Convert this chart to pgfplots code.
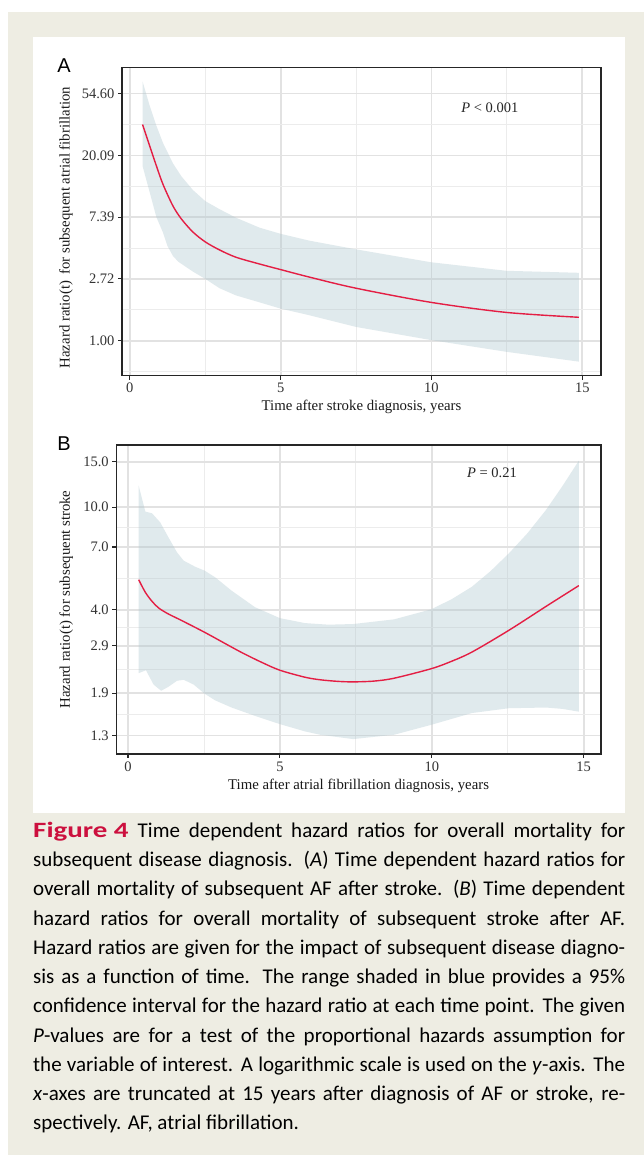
\documentclass[border=0pt]{standalone}
\usepackage{fontspec}
\usepackage{graphicx}
\setmainfont{Liberation Serif}
\newfontfamily\capfont{Carlito}
\newfontfamily\panelfont{Liberation Sans}
\usepackage{pgfplots}
\usepackage{pgfplotstable}
\pgfplotsset{compat=1.18}

\definecolor{beige}{RGB}{238,237,227}
\definecolor{gridmaj}{RGB}{226,226,226}
\definecolor{gridmin}{RGB}{236,236,236}
\definecolor{bandc}{RGB}{169,195,204}
\definecolor{fitred}{RGB}{228,30,68}
\definecolor{figred}{RGB}{204,16,62}

% Panel A: fitted hazard ratio
\pgfplotstableread{
t     hr
0.42  33.12
0.66  23.34
0.88  16.95
1.10  12.55
1.43  8.85
1.71  7.17
2.09  5.81
2.50  4.95
2.97  4.35
3.52  3.86
4.30  3.46
5.00  3.16
5.95  2.80
7.49  2.34
9.98  1.86
12.48 1.58
14.89 1.46
}\tabAfit

% Panel A: 95% CI polygon (upper limit forward, lower limit backward)
\pgfplotstableread{
t     hr
0.42  66.69
0.66  44.70
0.88  32.46
1.10  24.53
1.43  17.64
1.71  14.30
2.09  11.47
2.50  9.58
2.97  8.41
3.52  7.32
4.30  6.23
5.00  5.64
5.95  5.05
7.49  4.39
9.98  3.56
12.48 3.10
14.89 3.00
14.89 0.712
12.48 0.835
9.98  1.01
7.49  1.25
5.95  1.51
5.00  1.68
4.30  1.86
3.52  2.08
2.97  2.34
2.50  2.72
2.09  3.06
1.87  3.29
1.60  3.60
1.43  3.94
1.25  4.62
1.10  5.75
0.88  7.39
0.66  11.02
0.42  16.95
}\tabAci

% Panel B: fitted hazard ratio
\pgfplotstableread{
t     hr
0.35  5.23
0.57  4.67
0.79  4.31
1.01  4.06
1.33  3.85
1.77  3.63
2.52  3.27
3.19  2.96
3.74  2.73
4.40  2.50
5.00  2.33
5.82  2.19
6.32  2.14
6.90  2.11
7.41  2.10
8.10  2.115
8.76  2.17
9.97  2.36
10.60 2.51
11.32 2.74
12.54 3.33
13.76 4.12
14.84 4.96
}\tabBfit

% Panel B: 95% CI polygon (upper limit forward, lower limit backward)
\pgfplotstableread{
t     hr
0.35  12.11
0.57  9.60
0.79  9.46
1.06  8.72
1.33  7.63
1.61  6.68
1.83  6.20
2.21  5.87
2.52  5.67
2.87  5.34
3.41  4.74
4.18  4.09
5.00  3.71
5.82  3.55
6.60  3.50
7.41  3.52
8.76  3.67
9.97  4.01
10.65 4.39
11.32 4.91
11.93 5.64
12.54 6.62
13.15 7.92
13.76 9.75
14.30 12.06
14.84 15.13
14.84 1.61
14.30 1.65
13.76 1.67
12.54 1.66
11.32 1.59
9.97  1.43
8.76  1.31
7.41  1.26
6.32  1.31
5.82  1.35
5.00  1.44
4.18  1.55
3.41  1.67
2.87  1.78
2.52  1.89
2.16  2.05
1.83  2.14
1.61  2.12
1.33  2.01
1.09  1.94
0.84  2.05
0.59  2.33
0.35  2.27
}\tabBci

\pgfplotsset{
  hzaxis/.style={
    scale only axis, anchor=south west,
    axis line style={draw=black!85, line width=1.1pt},
    tick align=outside, xtick pos=bottom, ytick pos=left,
    major tick length=4pt, minor tick length=0pt,
    tick style={draw=black!85, line width=1.1pt},
    grid=both,
    major grid style={draw=gridmaj, line width=1.7pt},
    minor grid style={draw=gridmin, line width=0.9pt},
    xtick={0,5,10,15}, xticklabels={0,5,10,15},
    minor xtick={2.5,7.5,12.5},
    ticklabel style={font=\fontsize{14.5}{14.5}\selectfont, text=black!80},
    label style={font=\fontsize{14.8}{14.8}\selectfont, text=black!90},
  },
}
\tikzset{
  ciband/.style={fill=bandc, fill opacity=0.35, draw=none},
  fitline/.style={draw=fitred, line width=1.4pt},
}

\begin{document}
\begin{tikzpicture}[x=1pt,y=1pt]
\fill[white] (0,0) rectangle (644,1155);
\fill[beige] (8,0) rectangle (644,1143);
\fill[white] (33,342) rectangle (625,1118);

\node[font=\panelfont\fontsize{20}{20}\selectfont] at (64,1089) {A};
\node[font=\panelfont\fontsize{20}{20}\selectfont] at (64,711) {B};

% ---------- Panel A ----------
\begin{axis}[hzaxis, ymode=log,
  at={(122pt,779.3pt)}, width=479pt, height=308pt,
  xmin=-0.26, xmax=15.62, ymin=0.5672, ymax=83.1,
  ytick={1,2.71828,7.38906,20.0855,54.5982},
  yticklabels={1.00,2.72,7.39,20.09,54.60},
  minor ytick={0.60653,1.64872,4.48169,12.18249,33.11545},
  xlabel={Time after stroke diagnosis, years},
  ylabel={Hazard ratio(t)\, for subsequent atrial fibrillation},
  xlabel style={at={(axis description cs:0.5,-0.1006)}, anchor=center},
  ylabel style={at={(axis description cs:-0.1169,0.481)}, anchor=center},
]
\addplot[ciband, no marks] table[x=t,y=hr] {\tabAci};
\addplot[fitline, no marks, smooth] table[x=t,y=hr] {\tabAfit};
\node[font=\fontsize{14.5}{14.5}\selectfont, text=black!85] at (axis description cs:0.768,0.869) {\textit{P} < 0.001};
\end{axis}

% ---------- Panel B ----------
\begin{axis}[hzaxis, ymode=log,
  at={(116.2pt,401pt)}, width=484.8pt, height=309pt,
  xmin=-0.39, xmax=15.57, ymin=1.103, ymax=17.41,
  ytick={1.3,1.9,2.9,4,7,10,15},
  yticklabels={1.3,1.9,2.9,4.0,7.0,10.0,15.0},
  minor ytick={1.5716,2.3473,3.4059,5.2915,8.3666},
  xlabel={Time after atrial fibrillation diagnosis, years},
  ylabel={Hazard ratio(t) for subsequent stroke},
  xlabel style={at={(axis description cs:0.5,-0.1036)}, anchor=center},
  ylabel style={at={(axis description cs:-0.1031,0.5)}, anchor=center},
]
\addplot[ciband, no marks] table[x=t,y=hr] {\tabBci};
\addplot[fitline, no marks, smooth] table[x=t,y=hr] {\tabBfit};
\node[font=\fontsize{14.5}{14.5}\selectfont, text=black!85] at (axis description cs:0.775,0.909) {\textit{P} = 0.21};
\end{axis}

% ---------- Caption ----------
\node[anchor=base west, inner sep=0pt] at (33,25) {\vbox{\capfont\fontsize{21}{29.27}\selectfont
\hbox to 592pt{\scalebox{1.38}[1.04]{\color{figred}\bfseries Figure 4}\hskip 9pt Time dependent hazard ratios for overall mortality for}
\hbox to 592pt{subsequent disease diagnosis. (\textit{A}) Time dependent hazard ratios for}
\hbox to 592pt{overall mortality of subsequent AF after stroke. (\textit{B}) Time dependent}
\hbox to 592pt{hazard ratios for overall mortality of subsequent stroke after AF.}
\hbox to 592pt{Hazard ratios are given for the impact of subsequent disease diagno-}
\hbox to 592pt{sis as a function of time. The range shaded in blue provides a 95\%}
\hbox to 592pt{confidence interval for the hazard ratio at each time point. The given}
\hbox to 592pt{\textit{P}-values are for a test of the proportional hazards assumption for}
\hbox to 592pt{the variable of interest. A logarithmic scale is used on the \textit{y}-axis. The}
\hbox to 592pt{\textit{x}-axes are truncated at 15 years after diagnosis of AF or stroke, re-}
\hbox{spectively. AF, atrial fibrillation.}}};
\end{tikzpicture}
\end{document}
